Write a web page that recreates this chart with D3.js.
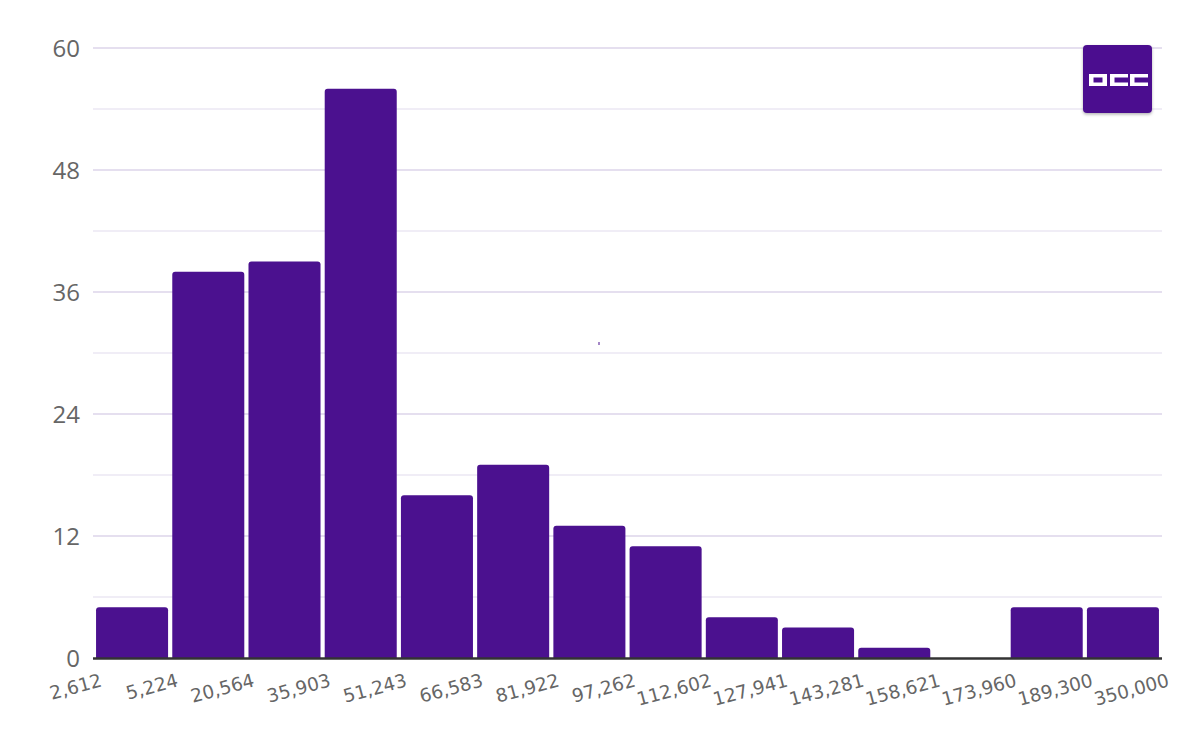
<!DOCTYPE html>
<html><head><meta charset="utf-8">
<script src="https://cdn.jsdelivr.net/npm/d3@7"></script>
<style>html,body{margin:0;padding:0;background:#fff;}svg{display:block;}</style>
</head><body>
<svg id="chart" width="1200" height="742"></svg>
<script>
const binLabels = ["2,612","5,224","20,564","35,903","51,243","66,583","81,922","97,262","112,602","127,941","143,281","158,621","173,960","189,300","350,000"];
const bins = ["b1","b2","b3","b4","b5","b6","b7","b8","b9","b10","b11","b12","b13","b14"];
const counts = [5,38,39,56,16,19,13,11,4,3,1,0,5,5];
const yTicks = [0,12,24,36,48,60];
const yGrid = [6,18,30,42,54];

(function(){
const svg = d3.select("#chart");
const pLeft = 93, pRight = 1162, pTop = 48, pBottom = 658;
const barColor = "#4b118f";

const x = d3.scaleBand().domain(bins).range([pLeft, pRight]).paddingInner(0.055).paddingOuter(0.04);
const y = d3.scaleLinear().domain([0, 60]).range([pBottom, pTop]);

// grid
svg.append("g").selectAll("line").data(yGrid).join("line")
  .attr("x1", pLeft).attr("x2", pRight)
  .attr("y1", d => y(d)).attr("y2", d => y(d))
  .attr("stroke", "#ebe7f3").attr("stroke-width", 1.5);
svg.append("g").selectAll("line").data(yTicks.filter(d => d > 0)).join("line")
  .attr("x1", pLeft).attr("x2", pRight)
  .attr("y1", d => y(d)).attr("y2", d => y(d))
  .attr("stroke", "#dcd5ea").attr("stroke-width", 1.5);

// y labels
const yAxis = d3.axisLeft(y).tickValues(yTicks).tickSize(0).tickPadding(0);
const ga = svg.append("g").attr("transform", `translate(${pLeft - 13},0)`).call(yAxis);
ga.select(".domain").remove();
ga.selectAll("text").attr("fill", "#666").attr("font-family", "'Open Sans', Lato, sans-serif").attr("font-size", 24).attr("dy", "0.35em");

// bars with rounded top corners
const r = 3;
function barPath(d, i) {
  const x0 = x(bins[i]), w = x.bandwidth(), y0 = y(d), y1 = y(0);
  if (d <= 0) return "";
  return `M${x0},${y1} L${x0},${y0 + r} Q${x0},${y0} ${x0 + r},${y0} L${x0 + w - r},${y0} Q${x0 + w},${y0} ${x0 + w},${y0 + r} L${x0 + w},${y1} Z`;
}
svg.append("g").selectAll("path").data(counts).join("path")
  .attr("d", (d, i) => barPath(d, i)).attr("fill", barColor);

// x axis line
svg.append("line").attr("x1", pLeft).attr("x2", pRight).attr("y1", pBottom + 0.5).attr("y2", pBottom + 0.5)
  .attr("stroke", "#333").attr("stroke-width", 2.5);

// x labels at bin edges
const gap = x.step() - x.bandwidth();
const edges = binLabels.map((l, i) => i < bins.length ? x(bins[i]) - gap / 2 : x(bins[bins.length - 1]) + x.bandwidth() + gap / 2);
svg.append("g").selectAll("text").data(binLabels).join("text")
  .attr("transform", (d, i) => `translate(${edges[i] + 9},${pBottom + 28}) rotate(-15)`)
  .attr("text-anchor", "end")
  .attr("fill", "#666").attr("font-family", "'DejaVu Sans', sans-serif").attr("font-size", 18.5)
  .text(d => d);

// tiny artifact mark
svg.append("rect").attr("x", 598.5).attr("y", 342).attr("width", 1).attr("height", 3).attr("fill", barColor);

// OCC logo
const defs = svg.append("defs");
const f = defs.append("filter").attr("id", "sh").attr("x", "-20%").attr("y", "-20%").attr("width", "140%").attr("height", "150%");
f.append("feDropShadow").attr("dx", 0).attr("dy", 1.5).attr("stdDeviation", 1.5).attr("flood-color", "#000").attr("flood-opacity", 0.3);
const lg = svg.append("g").attr("transform", "translate(1083,45)");
lg.append("rect").attr("width", 69).attr("height", 68).attr("rx", 4).attr("fill", barColor).attr("filter", "url(#sh)");
lg.append("path").attr("fill", "#fff").attr("fill-rule", "evenodd")
  .attr("d", "M6,29 h18 v12 h-18 z M10.5,32.5 v5 h9 v-5 z");
lg.append("path").attr("fill", "#fff")
  .attr("d", "M27,29 h18 v3.5 h-13.5 v5 h13.5 v3.5 h-18 z");
lg.append("path").attr("fill", "#fff")
  .attr("d", "M47,29 h18 v3.5 h-13.5 v5 h13.5 v3.5 h-18 z");
})();
</script>
</body></html>
